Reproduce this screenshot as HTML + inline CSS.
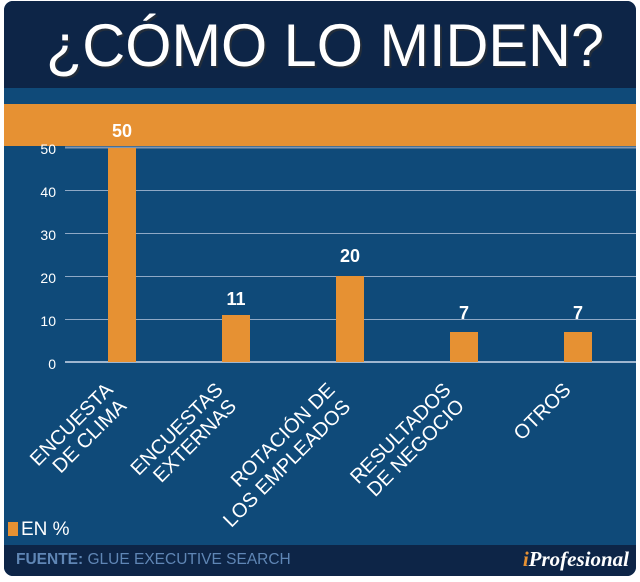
<!DOCTYPE html>
<html><head><meta charset="utf-8"><style>
html,body{margin:0;padding:0;background:#fff;}
body{width:640px;height:577px;position:relative;overflow:hidden;font-family:"Liberation Sans",sans-serif;}
</style></head><body>
<svg width="640" height="577" viewBox="0 0 640 577" xmlns="http://www.w3.org/2000/svg" font-family="Liberation Sans, sans-serif">
<defs><clipPath id="c"><rect x="4" y="1" width="632" height="575" rx="9"/></clipPath></defs>
<g clip-path="url(#c)">
<rect x="0" y="0" width="640" height="577" fill="#0f4a79"/>
<rect x="0" y="0" width="640" height="88" fill="#0d2547"/>
<rect x="0" y="104" width="640" height="42" fill="#e69133"/>
<rect x="0" y="545" width="640" height="32" fill="#0d2547"/>
</g>
<text x="327" y="68" font-size="60" fill="#333" text-anchor="middle" opacity="0.6" textLength="558" lengthAdjust="spacingAndGlyphs">¿CÓMO LO MIDEN?</text>
<text x="325" y="66" font-size="60" fill="#fff" text-anchor="middle" textLength="558" lengthAdjust="spacingAndGlyphs">¿CÓMO LO MIDEN?</text>
<g stroke="#8fa9c6" stroke-width="1">
<line x1="65" y1="147.5" x2="636" y2="147.5" stroke="#7f97b3" stroke-width="2"/>
<line x1="65" y1="190.5" x2="636" y2="190.5"/>
<line x1="65" y1="233.5" x2="636" y2="233.5"/>
<line x1="65" y1="276.5" x2="636" y2="276.5"/>
<line x1="65" y1="319.5" x2="636" y2="319.5"/>
<line x1="65" y1="362" x2="636" y2="362" stroke="#9fb6cf" stroke-width="2"/>
</g>
<g font-size="14" fill="#fff" text-anchor="end">
<text x="56" y="154">50</text><text x="56" y="197">40</text><text x="56" y="240">30</text>
<text x="56" y="283">20</text><text x="56" y="326">10</text><text x="56" y="369">0</text>
</g>
<g fill="#e69133">
<rect x="108" y="148" width="28" height="214"/>
<rect x="222" y="315" width="28" height="47"/>
<rect x="336" y="276" width="28" height="86"/>
<rect x="450" y="332" width="28" height="30"/>
<rect x="564" y="332" width="28" height="30"/>
</g>
<g font-size="18" font-weight="bold" fill="#fff" text-anchor="middle">
<text x="122" y="137">50</text><text x="236" y="305">11</text><text x="350" y="262">20</text>
<text x="464" y="319">7</text><text x="578" y="319">7</text>
</g>
<g font-size="20" fill="#fff" text-anchor="end">
<g transform="translate(114,391) rotate(-45)"><text x="0" y="0">ENCUESTA</text><text x="-2" y="21">DE CLIMA</text></g>
<g transform="translate(224,391) rotate(-45)"><text x="0" y="0">ENCUESTAS</text><text x="-2" y="21">EXTERNAS</text></g>
<g transform="translate(336,391) rotate(-45)"><text x="0" y="0">ROTACIÓN DE</text><text x="-1" y="23">LOS EMPLEADOS</text></g>
<g transform="translate(452,391) rotate(-45)"><text x="0" y="0">RESULTADOS</text><text x="-2" y="21">DE NEGOCIO</text></g>
<g transform="translate(572,391) rotate(-45)"><text x="0" y="0">OTROS</text></g>
</g>
<rect x="8" y="522" width="10" height="14" fill="#e69133"/>
<text x="21" y="535" font-size="19" fill="#fff">EN %</text>
<text x="16" y="564" font-size="15.5" fill="#5f86b5"><tspan font-weight="bold">FUENTE:</tspan> GLUE EXECUTIVE SEARCH</text>
<text x="629" y="566" font-size="21" fill="#fff" text-anchor="end" font-family="Liberation Serif, serif" font-style="italic" font-weight="bold"><tspan fill="#e69133">i</tspan>Profesional</text>
</svg>
</body></html>
